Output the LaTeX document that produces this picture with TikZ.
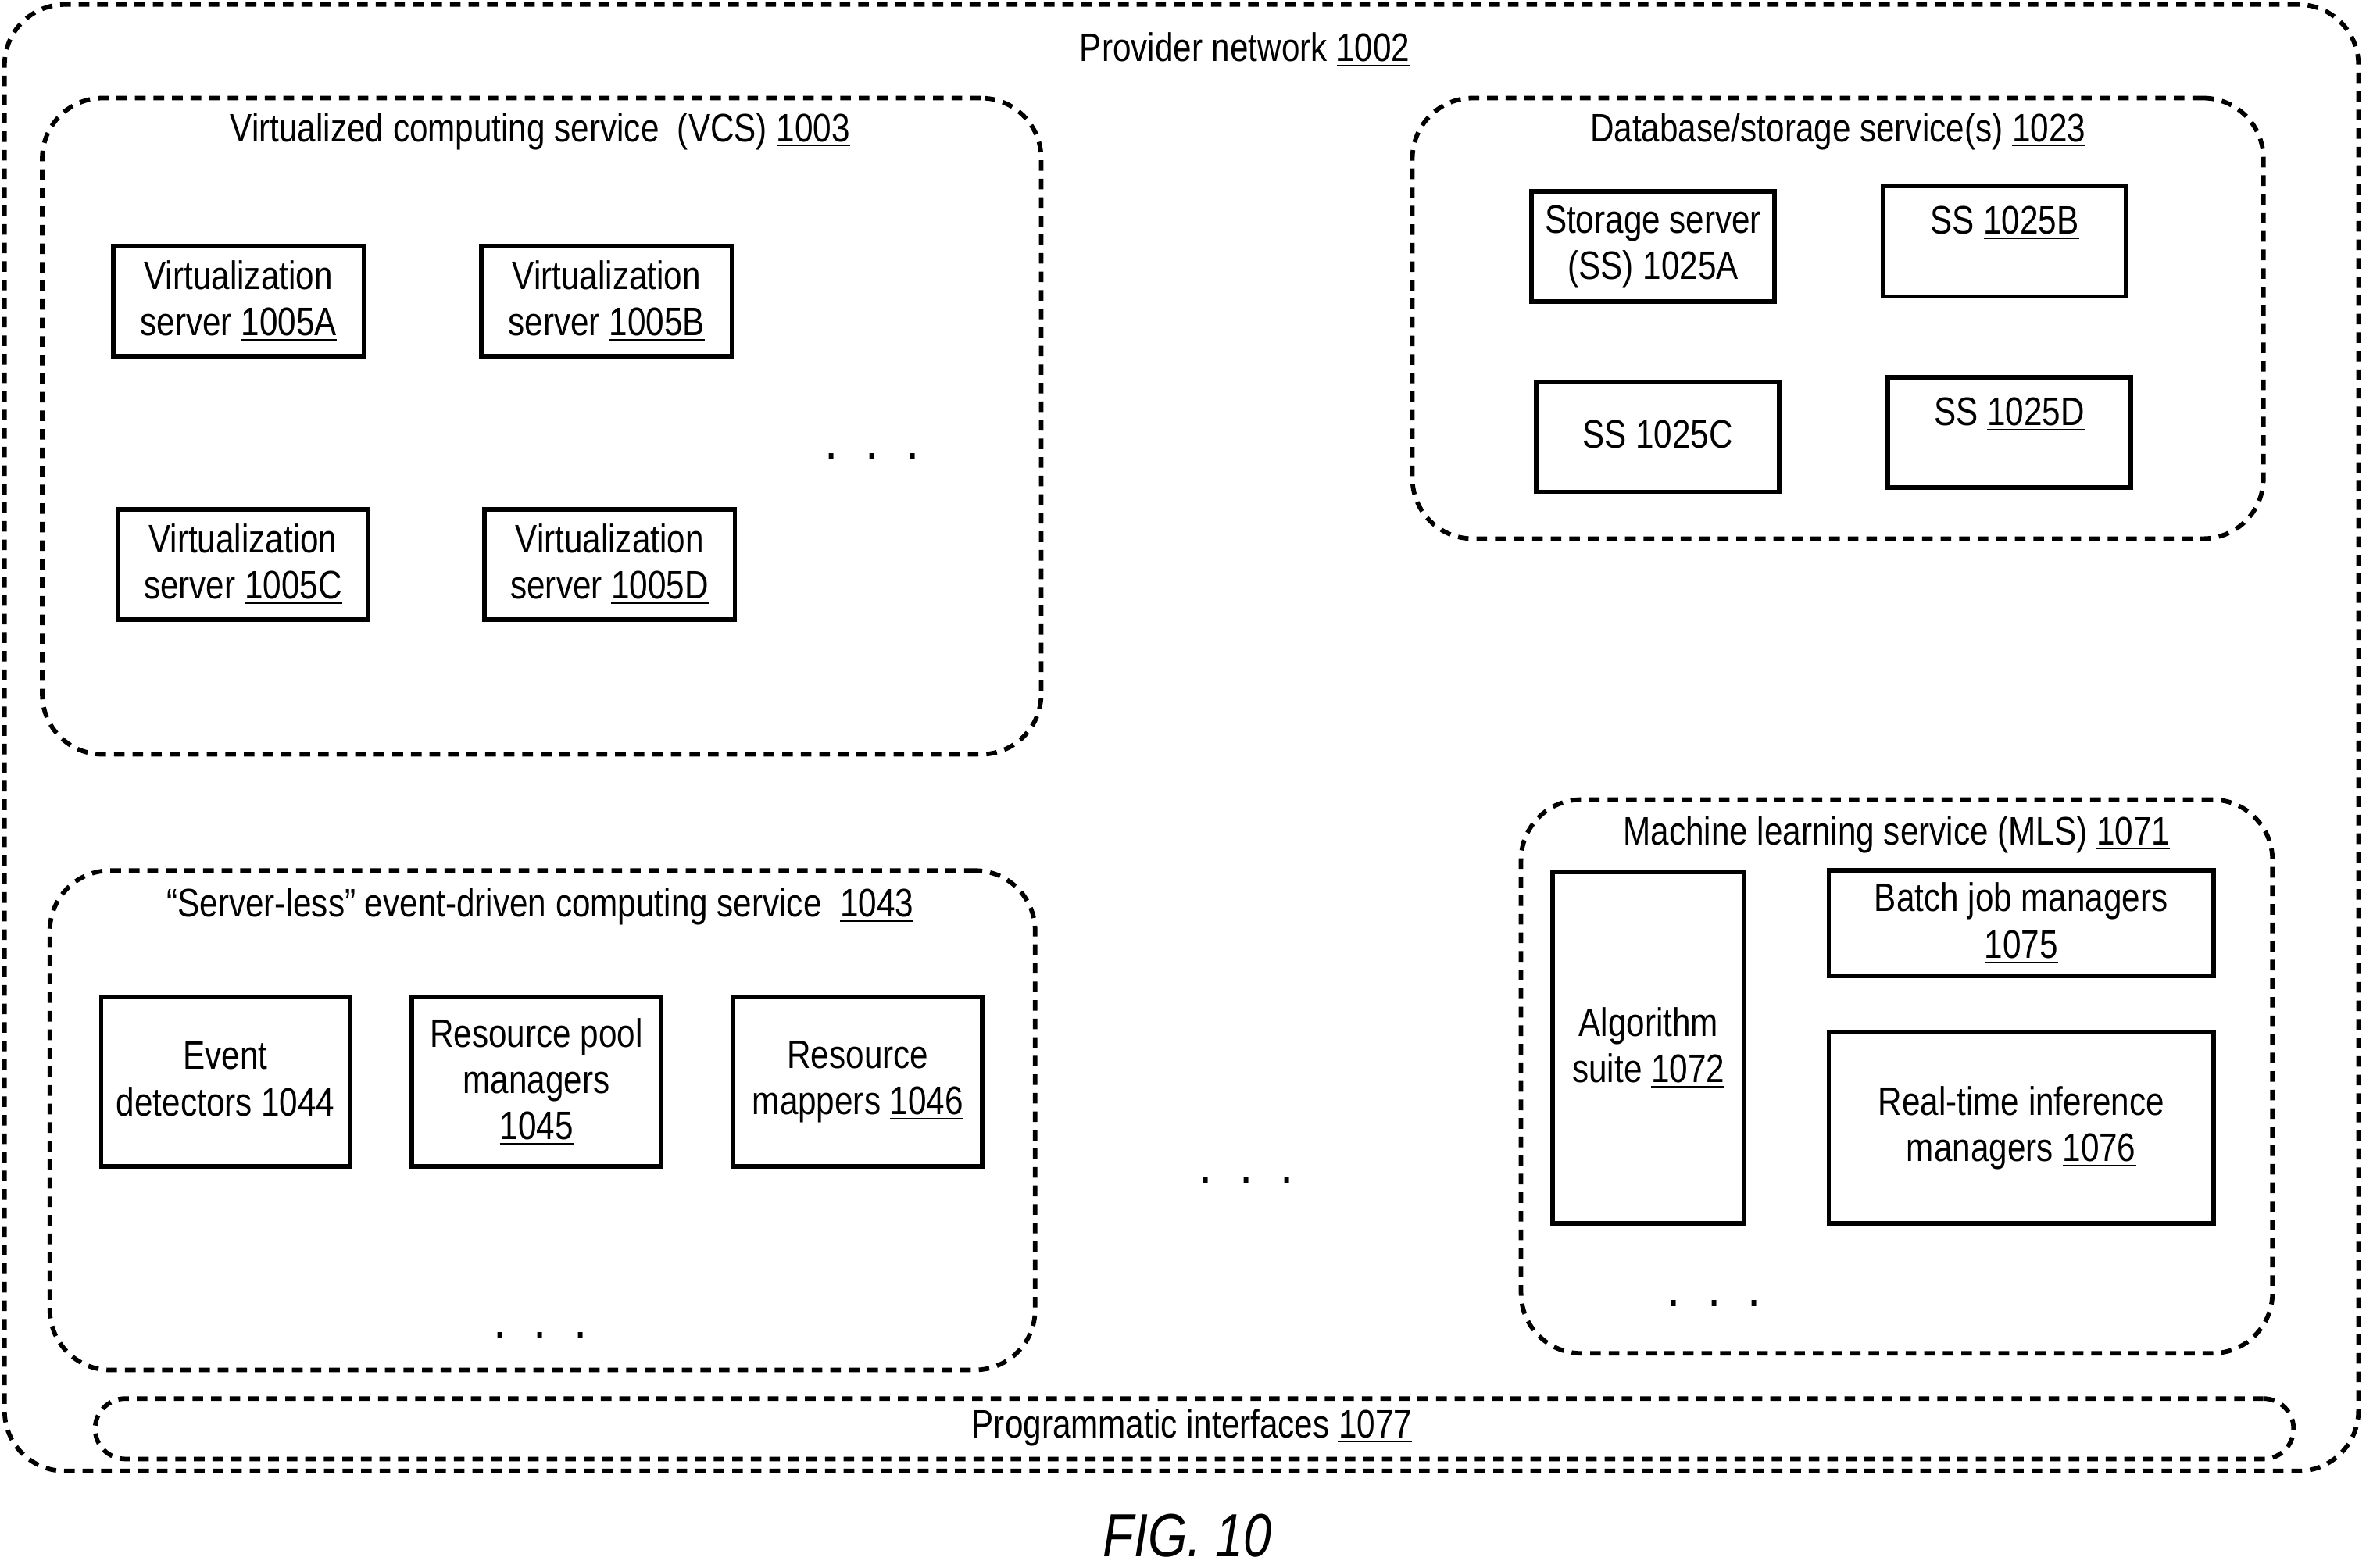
\documentclass[tikz,border=0pt]{standalone}
\usepackage{fontspec}
\setmainfont{Liberation Sans}[FakeStretch=0.83]
\newcommand{\refnum}[1]{\underline{#1}}
\tikzset{
  group/.style={draw, line width=1.7pt, dash pattern=on 4pt off 3pt, rounded corners=0.8cm, inner sep=0pt},
  box/.style={draw, line width=1.7pt, align=center, inner sep=0pt},
  lbl/.style={align=center, inner sep=0pt},
  dots/.style={font=\fontsize{22}{22}\selectfont}
}
\begin{document}
\begin{tikzpicture}[font=\fontsize{15}{17.5}\selectfont]
        \useasboundingbox (0,0) rectangle (31.36,-20.78);

        \node (pn) [group, minimum width=31.2cm, minimum height=19.44cm] at (15.66,-9.78) {};
        \node (pnl) [lbl] at (16.5,-0.66) {Provider network \refnum{1002}};

        % VCS
        \node (vcs) [group, minimum width=13.24cm, minimum height=8.7cm] at (7.18,-5.65) {};
        \node (vcsl) [lbl] at (7.16,-1.74) {Virtualized computing service\ \ (VCS) \refnum{1003}};
        \node (vsA) [box, minimum width=3.32cm, minimum height=1.46cm] at (3.16,-3.99) {Virtualization\\server \refnum{1005A}};
        \node (vsB) [box, minimum width=3.32cm, minimum height=1.46cm] at (8.04,-3.99) {Virtualization\\server \refnum{1005B}};
        \node (vsC) [box, minimum width=3.32cm, minimum height=1.46cm] at (3.22,-7.48) {Virtualization\\server \refnum{1005C}};
        \node (vsD) [box, minimum width=3.32cm, minimum height=1.46cm] at (8.08,-7.48) {Virtualization\\server \refnum{1005D}};
        \node (vcsdots) [dots] at (11.56,-6.05) {.\ \ .\ \ .};

        % database / storage
        \node (db) [group, minimum width=11.28cm, minimum height=5.84cm] at (24.36,-4.22) {};
        \node (dbl) [lbl] at (24.36,-1.74) {Database/storage service(s) \refnum{1023}};
        \node (ssA) [box, minimum width=3.22cm, minimum height=1.46cm] at (21.91,-3.27) {Storage server\\(SS) \refnum{1025A}};
        \node (ssB) [box, minimum width=3.22cm, minimum height=1.46cm] at (26.57,-3.2) {};
        \node (ssBl) [lbl] at (26.57,-2.96) {SS \refnum{1025B}};
        \node (ssC) [box, minimum width=3.22cm, minimum height=1.46cm] at (21.97,-5.79) {SS \refnum{1025C}};
        \node (ssD) [box, minimum width=3.22cm, minimum height=1.46cm] at (26.63,-5.73) {};
        \node (ssDl) [lbl] at (26.63,-5.49) {SS \refnum{1025D}};

        % server-less
        \node (sl) [group, minimum width=13.06cm, minimum height=6.62cm] at (7.19,-14.85) {};
        \node (sll) [lbl] at (7.16,-12.02) {``Server-less'' event-driven computing service\ \ \refnum{1043}};
        \node (ed) [box, minimum width=3.3cm, minimum height=2.24cm] at (2.99,-14.34) {Event\\detectors \refnum{1044}};
        \node (rpm) [box, minimum width=3.3cm, minimum height=2.24cm] at (7.11,-14.34) {Resource pool\\managers\\\refnum{1045}};
        \node (rm) [box, minimum width=3.3cm, minimum height=2.24cm] at (11.37,-14.34) {Resource\\mappers \refnum{1046}};
        \node (sldots) [dots] at (7.16,-17.7) {.\ \ .\ \ .};

        \node (middots) [dots] at (16.52,-15.64) {.\ \ .\ \ .};

        % MLS
        \node (mls) [group, minimum width=9.96cm, minimum height=7.34cm] at (25.14,-14.27) {};
        \node (mlsl) [lbl] at (25.14,-11.06) {Machine learning service (MLS) \refnum{1071}};
        \node (alg) [box, minimum width=2.54cm, minimum height=4.66cm] at (21.85,-13.89) {Algorithm\\suite \refnum{1072}};
        \node (bjm) [box, minimum width=5.1cm, minimum height=1.4cm] at (26.79,-12.24) {Batch job managers\\\refnum{1075}};
        \node (rti) [box, minimum width=5.1cm, minimum height=2.54cm] at (26.79,-14.95) {Real-time inference\\managers \refnum{1076}};
        \node (mlsdots) [dots] at (22.72,-17.28) {.\ \ .\ \ .};

        \node (pi) [group, rounded corners=0.4cm, minimum width=29.14cm, minimum height=0.8cm] at (15.83,-18.94) {};
        \node (pil) [lbl] at (15.8,-18.92) {Programmatic interfaces \refnum{1077}};

        \node (fig) [lbl, font=\fontsize{23}{23}\selectfont\itshape] at (15.74,-20.36) {FIG. 10};
      \end{tikzpicture}
\end{document}
